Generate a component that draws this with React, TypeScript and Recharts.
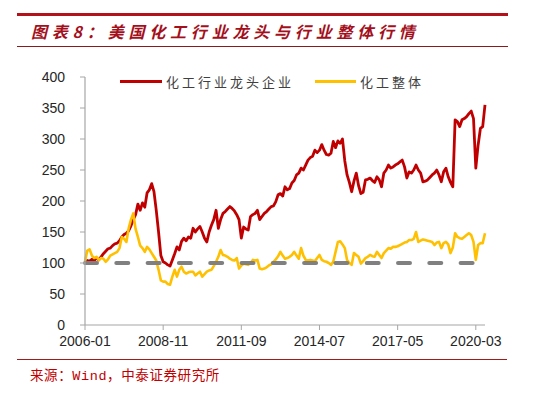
import React from "react";
import { LineChart, Line, XAxis, YAxis, ReferenceLine } from "recharts";

const leaders: number[] = [
  100, 104, 103, 106, 104, 108, 105, 110, 115, 119,
  123, 124, 128, 131, 132, 136, 142, 146, 148, 152,
  160, 170, 178, 195, 185, 197, 190, 213, 218, 228,
  215, 185, 150, 112, 102, 100, 97, 95, 105, 115,
  126, 121, 135, 140, 136, 142, 140, 156, 150, 155,
  159, 150, 140, 134, 150, 161, 170, 185, 156, 170,
  180, 183, 187, 191, 188, 184, 178, 170, 140, 158,
  155, 153, 175, 178, 180, 185, 170, 175, 180, 183,
  187, 191, 192, 199, 210, 212, 208, 223, 218, 220,
  229, 233, 242, 245, 253, 250, 258, 266, 270, 272,
  282, 278, 282, 291, 282, 275, 274, 277, 296, 286,
  297, 293, 300, 265, 242, 230, 215, 232, 245, 225,
  212, 214, 234, 235, 237, 233, 230, 239, 234, 223,
  245, 250, 258, 253, 255, 258, 260, 263, 266, 255,
  237, 247, 245, 250, 258, 250, 245, 231, 232, 234,
  238, 242, 245, 250, 242, 231, 247, 253, 239, 230,
  223, 331, 328, 320, 331, 333, 336, 341, 345, 333,
  253, 290, 317, 320, 355,
];

const industry: number[] = [
  103, 120, 122, 112, 108, 110, 105, 108, 107, 102,
  106, 112, 114, 116, 118, 124, 142, 139, 134, 156,
  170, 180, 155, 142, 128, 124, 118, 126, 122, 116,
  110, 104, 89, 72, 70, 70, 66, 65, 78, 89,
  78, 89, 94, 86, 83, 85, 86, 86, 80, 83,
  86, 78, 82, 86, 88, 89, 95, 102, 110, 121,
  113, 112, 110, 107, 105, 104, 108, 91, 96, 99,
  98, 97, 100, 105, 104, 105, 91, 90, 91, 93,
  96, 98, 102, 106, 111, 118, 112, 107, 108, 110,
  113, 118, 112, 107, 124, 112, 105, 104, 105, 104,
  103, 108, 113, 105, 103, 102, 100, 97, 102, 118,
  134, 135, 130, 124, 105, 100, 97, 116, 113, 110,
  99, 103, 108, 110, 113, 111, 110, 118, 113, 108,
  116, 120, 124, 123, 126, 126, 127, 129, 131, 133,
  134, 137, 137, 139, 150, 134, 136, 138, 137, 136,
  135, 134, 129, 133, 134, 124, 132, 134, 130, 116,
  125, 148, 142, 140, 139, 142, 145, 148, 145, 134,
  105, 129, 132, 132, 148,
];

const startYear = 2006;
const startMonth = 1;
const yTicks: number[] = [0, 50, 100, 150, 200, 250, 300, 350, 400];
const baseline = 100;

const seriesNames = ["化工行业龙头企业", "化工整体"];
const titleText = "图表8：美国化工行业龙头与行业整体行情";
const sourceText = "来源：Wind，中泰证券研究所";

const categories: string[] = leaders.map((_, i) => {
  const total = startMonth - 1 + i;
  const y = startYear + Math.floor(total / 12);
  const m = (total % 12) + 1;
  return `${y}-${m < 10 ? "0" + m : m}`;
});

const data = categories.map((c, i) => ({
  date: c,
  leaders: leaders[i],
  industry: industry[i],
}));

const RED = "#C00000";
const YELLOW = "#FFC000";
const AXIS = "#A6A6A6";
const CJK = '"Noto Sans CJK SC", sans-serif';

export default function App() {
  return (
    <div
      style={{
        position: "absolute",
        left: 0,
        top: 0,
        width: 533,
        height: 395,
        background: "#ffffff",
        overflow: "hidden",
      }}
    >
      <div style={{ position: "absolute", left: 17, top: 13, width: 491, height: 3, background: "#B3121B" }} />
      <div
        style={{
          position: "absolute",
          left: 31,
          top: 20,
          height: 22,
          lineHeight: "22px",
          fontFamily: CJK,
          fontSize: 16,
          fontWeight: 700,
          fontStyle: "italic",
          letterSpacing: 4.8,
          color: "#A3101C",
          whiteSpace: "nowrap",
        }}
      >
        {titleText}
      </div>
      <div style={{ position: "absolute", left: 17, top: 46, width: 491, height: 1, background: "#8B1A1A" }} />

      <div style={{ position: "absolute", left: 0, top: 0 }}>
        <LineChart
          width={533}
          height={395}
          data={data}
          margin={{ top: 77, right: 48, bottom: 40, left: 25 }}
        >
          <XAxis
            dataKey="date"
            interval={33}
            height={30}
            tickSize={5}
            tickMargin={6}
            stroke={AXIS}
            tickLine={{ stroke: AXIS }}
            axisLine={{ stroke: AXIS, strokeWidth: 1.2 }}
            tick={{ fill: "#262626", fontSize: 14, fontFamily: "Liberation Sans, Arial, sans-serif" }}
          />
          <YAxis
            type="number"
            domain={[0, 400]}
            ticks={yTicks}
            width={60}
            tickSize={5}
            tickMargin={15}
            stroke={AXIS}
            tickLine={{ stroke: AXIS }}
            axisLine={{ stroke: AXIS, strokeWidth: 1.2 }}
            tick={{ fill: "#262626", fontSize: 14, fontFamily: "Liberation Sans, Arial, sans-serif" }}
            interval={0}
          />
          <Line
            type="linear"
            dataKey="leaders"
            stroke={RED}
            strokeWidth={2.8}
            dot={false}
            isAnimationActive={false}
            strokeLinejoin="round"
          />
          <Line
            type="linear"
            dataKey="industry"
            stroke={YELLOW}
            strokeWidth={2.6}
            dot={false}
            isAnimationActive={false}
            strokeLinejoin="round"
          />
          <ReferenceLine
            y={baseline}
            stroke="#808080"
            strokeWidth={4}
            strokeDasharray="12 19.3"
            strokeLinecap="round"
          />
        </LineChart>
      </div>

      <div style={{ position: "absolute", left: 120, top: 79.5, width: 42, height: 3, background: RED }} />
      <div
        style={{
          position: "absolute",
          left: 166,
          top: 72,
          lineHeight: "20px",
          fontFamily: CJK,
          fontSize: 13,
          letterSpacing: 3,
          color: "#404040",
          whiteSpace: "nowrap",
        }}
      >
        {seriesNames[0]}
      </div>
      <div style={{ position: "absolute", left: 315, top: 79.5, width: 41, height: 3, background: YELLOW }} />
      <div
        style={{
          position: "absolute",
          left: 360,
          top: 72,
          lineHeight: "20px",
          fontFamily: CJK,
          fontSize: 13,
          letterSpacing: 3,
          color: "#404040",
          whiteSpace: "nowrap",
        }}
      >
        {seriesNames[1]}
      </div>

      <div style={{ position: "absolute", left: 17, top: 359, width: 490, height: 1, background: "#A31A1A" }} />
      <div
        style={{
          position: "absolute",
          left: 30,
          top: 367,
          lineHeight: "20px",
          fontFamily: '"Liberation Mono", "Noto Sans CJK SC", monospace',
          fontSize: 13.5,
          letterSpacing: 0.6,
          color: "#C00000",
          whiteSpace: "nowrap",
        }}
      >
        {sourceText}
      </div>
    </div>
  );
}
